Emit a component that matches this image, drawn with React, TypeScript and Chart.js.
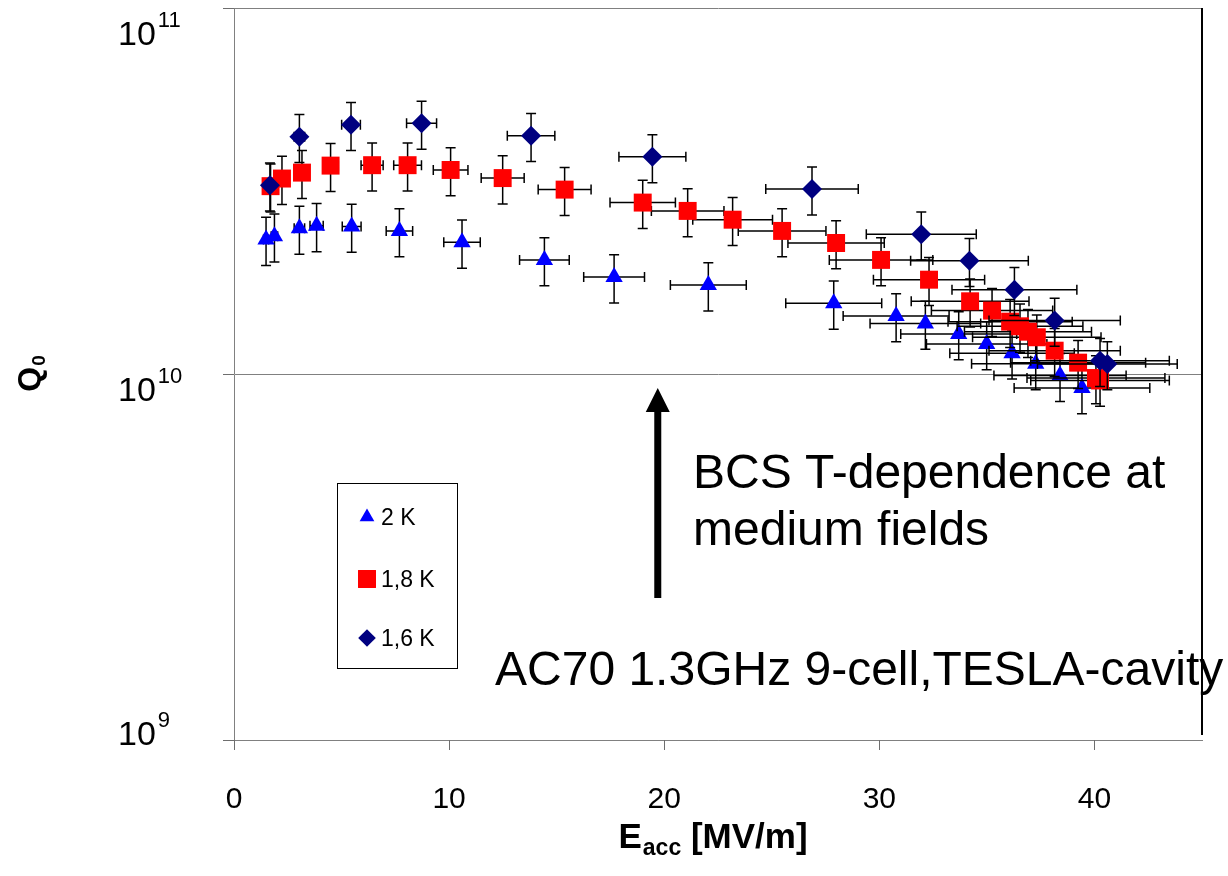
import React, { useEffect, useRef } from 'react';
import { Chart, registerables } from 'chart.js';

Chart.register(...registerables);

// ---------- data ----------
const E_2K = [1.49, 1.88, 3.04, 3.84, 5.47, 7.69, 10.6, 14.43, 17.67, 22.05, 27.88, 30.78, 32.14, 33.69, 34.99, 36.17, 37.27, 38.4, 39.42];
const Q_2K = [2.33e10, 2.38e10, 2.5e10, 2.54e10, 2.53e10, 2.46e10, 2.29e10, 2.05e10, 1.84e10, 1.75e10, 1.56e10, 1.44e10, 1.375e10, 1.287e10, 1.208e10, 1.14e10, 1.066e10, 0.99e10, 0.916e10];

const E_18K = [1.7, 2.23, 3.16, 4.49, 6.42, 8.07, 10.07, 12.49, 15.37, 19.0, 21.09, 23.18, 25.48, 27.99, 30.08, 32.31, 34.22, 35.24, 36.08, 36.54, 36.91, 37.32, 38.15, 39.24, 40.07, 40.26];
const Q_18K = [3.26e10, 3.42e10, 3.55e10, 3.71e10, 3.72e10, 3.72e10, 3.61e10, 3.43e10, 3.19e10, 2.94e10, 2.79e10, 2.64e10, 2.46e10, 2.28e10, 2.05e10, 1.81e10, 1.58e10, 1.49e10, 1.39e10, 1.35e10, 1.305e10, 1.26e10, 1.158e10, 1.074e10, 0.975e10, 0.96e10];

const E_16K = [1.67, 3.04, 5.44, 8.72, 13.81, 19.45, 26.87, 31.95, 34.19, 36.28, 38.15, 40.26, 40.6];
const Q_16K = [3.28e10, 4.45e10, 4.8e10, 4.84e10, 4.48e10, 3.92e10, 3.2e10, 2.41e10, 2.04e10, 1.7e10, 1.4e10, 1.087e10, 1.065e10];

const SERIES_LABELS = ['2 K', '1,8 K', '1,6 K'];
const X_TICKS = [0, 10, 20, 30, 40];
const Y_TICKS = [1e9, 1e10, 1e11];
const Y_TICK_EXP = ['9', '10', '11'];
const X_ERR_REL = 0.08; // relative error on E_acc
const Y_ERR_REL = 0.15; // relative error on Q0

const ANNOT_1 = ['BCS T-dependence at', 'medium fields'];
const ANNOT_2 = 'AC70 1.3GHz 9-cell,TESLA-cavity';

// ---------- styles ----------
const FONT = "'Liberation Sans', Arial, Helvetica, sans-serif";
const COLORS = ['#0000FF', '#FF0000', '#000080'];
const STYLES = ['triangle', 'rect', 'rectRot'];
const RADII = [10, 12.7, 10];
const Y_LABEL_DY = [5, 27, 37];

const toPts = (xs: number[], ys: number[]) => xs.map((x, i) => ({ x, y: ys[i] }));

function drawMarker(ctx: CanvasRenderingContext2D, style: string, x: number, y: number, r: number, color: string) {
  ctx.save();
  ctx.fillStyle = color;
  ctx.beginPath();
  if (style === 'triangle') {
    ctx.moveTo(x, y - r);
    ctx.lineTo(x + r * Math.sin(Math.PI * 2 / 3), y + r * 0.5);
    ctx.lineTo(x - r * Math.sin(Math.PI * 2 / 3), y + r * 0.5);
    ctx.closePath();
  } else if (style === 'rect') {
    const s = r * Math.SQRT1_2;
    ctx.rect(x - s, y - s, 2 * s, 2 * s);
  } else {
    ctx.moveTo(x, y - r);
    ctx.lineTo(x + r, y);
    ctx.lineTo(x, y + r);
    ctx.lineTo(x - r, y);
    ctx.closePath();
  }
  ctx.fill();
  ctx.restore();
}

const errorBarPlugin = {
  id: 'errorBars',
  beforeDatasetDraw(chart: any, args: any) {
    const ctx = chart.ctx as CanvasRenderingContext2D;
    const xs = chart.scales.x;
    const ys = chart.scales.y;
    const ds = chart.data.datasets[args.index];
    const cap = 5;
    ctx.save();
    ctx.strokeStyle = '#000';
    ctx.lineWidth = 1.5;
    for (const p of ds.data as { x: number; y: number }[]) {
      const px = xs.getPixelForValue(p.x);
      const py = ys.getPixelForValue(p.y);
      const xl = xs.getPixelForValue(p.x * (1 - X_ERR_REL));
      const xr = xs.getPixelForValue(p.x * (1 + X_ERR_REL));
      const yt = ys.getPixelForValue(p.y * (1 + Y_ERR_REL));
      const yb = ys.getPixelForValue(p.y * (1 - Y_ERR_REL));
      ctx.beginPath();
      ctx.moveTo(xl, py); ctx.lineTo(xr, py);
      ctx.moveTo(xl, py - cap); ctx.lineTo(xl, py + cap);
      ctx.moveTo(xr, py - cap); ctx.lineTo(xr, py + cap);
      ctx.moveTo(px, yt); ctx.lineTo(px, yb);
      ctx.moveTo(px - cap, yt); ctx.lineTo(px + cap, yt);
      ctx.moveTo(px - cap, yb); ctx.lineTo(px + cap, yb);
      ctx.stroke();
    }
    ctx.restore();
  },
};

const decorPlugin = {
  id: 'decor',
  afterDraw(chart: any) {
    const ctx = chart.ctx as CanvasRenderingContext2D;
    const a = chart.chartArea;
    const xs = chart.scales.x;
    const ys = chart.scales.y;
    ctx.save();

    // right border
    ctx.strokeStyle = '#000';
    ctx.lineWidth = 2;
    ctx.beginPath();
    ctx.moveTo(a.right, a.top);
    ctx.lineTo(a.right, a.bottom - 5);
    ctx.stroke();

    // tick marks
    ctx.strokeStyle = '#6e6e6e';
    ctx.lineWidth = 1;
    ctx.beginPath();
    for (const v of Y_TICKS) {
      const py = Math.round(ys.getPixelForValue(v)) + 0.5;
      ctx.moveTo(a.left - 11, py);
      ctx.lineTo(a.left, py);
    }
    for (const v of X_TICKS) {
      const px = Math.round(xs.getPixelForValue(v)) + 0.5;
      ctx.moveTo(px, a.bottom);
      ctx.lineTo(px, a.bottom + 10);
    }
    ctx.stroke();

    ctx.fillStyle = '#000';
    // x tick labels
    ctx.font = `30px ${FONT}`;
    ctx.textAlign = 'center';
    ctx.textBaseline = 'middle';
    for (const v of X_TICKS) {
      ctx.fillText(String(v), xs.getPixelForValue(v), a.bottom + 60);
    }

    // y tick labels 10^n
    ctx.textAlign = 'left';
    ctx.textBaseline = 'alphabetic';
    Y_TICKS.forEach((v, i) => {
      const py = ys.getPixelForValue(v);
      const base = py + Y_LABEL_DY[i];
      const lx = a.left - 116;
      ctx.font = `34px ${FONT}`;
      ctx.fillText('10', lx, base);
      const w = ctx.measureText('10').width;
      ctx.font = `22px ${FONT}`;
      ctx.fillText(Y_TICK_EXP[i], lx + w + 2, base - 18);
    });

    // y title Q0
    ctx.save();
    ctx.translate(28, (a.top + a.bottom) / 2);
    ctx.rotate(-Math.PI / 2);
    ctx.font = `bold 32px ${FONT}`;
    const wQ = ctx.measureText('Q').width;
    ctx.font = `bold 19px ${FONT}`;
    const w0 = ctx.measureText('0').width;
    const sx = -(wQ + w0) / 2;
    ctx.font = `bold 32px ${FONT}`;
    ctx.fillText('Q', sx, 12);
    ctx.font = `bold 19px ${FONT}`;
    ctx.fillText('0', sx + wQ + 1, 17);
    ctx.restore();

    // x title E_acc [MV/m]
    {
      const big = `bold 35px ${FONT}`;
      const small = `bold 23px ${FONT}`;
      ctx.font = big;
      const wE = ctx.measureText('E').width;
      const wR = ctx.measureText(' [MV/m]').width;
      ctx.font = small;
      const wS = ctx.measureText('acc').width;
      const total = wE + wS + 1 + wR;
      const x0 = (a.left + a.right) / 2 - 5 - total / 2;
      const yb = a.bottom + 108;
      ctx.font = big;
      ctx.fillText('E', x0, yb);
      ctx.font = small;
      ctx.fillText('acc', x0 + wE + 1, yb + 7);
      ctx.font = big;
      ctx.fillText(' [MV/m]', x0 + wE + 1 + wS, yb);
    }

    // legend
    {
      const lx = a.left + 103;
      const ly = a.top + 475;
      ctx.strokeStyle = '#000';
      ctx.lineWidth = 1;
      ctx.strokeRect(lx + 0.5, ly + 0.5, 120, 185);
      const rows = [34, 96, 155];
      const legR = [8.5, 12.7, 8.8];
      ctx.font = `23px ${FONT}`;
      ctx.fillStyle = '#000';
      SERIES_LABELS.forEach((lab, i) => {
        drawMarker(ctx, STYLES[i], lx + 30, ly + rows[i], legR[i], COLORS[i]);
        ctx.fillStyle = '#000';
        ctx.fillText(lab, lx + 44, ly + rows[i] + 8);
      });
    }

    // arrow
    {
      const ax = xs.getPixelForValue(19.7);
      const yBottom = a.top + 590;
      const yTip = a.top + 380;
      ctx.fillStyle = '#000';
      ctx.fillRect(ax - 3.5, yTip + 22, 7, yBottom - yTip - 22);
      ctx.beginPath();
      ctx.moveTo(ax, yTip);
      ctx.lineTo(ax + 12, yTip + 24);
      ctx.lineTo(ax - 12, yTip + 24);
      ctx.closePath();
      ctx.fill();
    }

    // annotations
    ctx.font = `48px ${FONT}`;
    ctx.fillStyle = '#000';
    ctx.fillText(ANNOT_1[0], a.left + 459, a.top + 480);
    ctx.fillText(ANNOT_1[1], a.left + 459, a.top + 537);
    ctx.fillText(ANNOT_2, a.left + 261, a.top + 677);

    ctx.restore();
  },
};

export default function App() {
  const ref = useRef<HTMLCanvasElement>(null);
  useEffect(() => {
    document.body.style.margin = '0';
    const datasets = [
      { label: SERIES_LABELS[0], data: toPts(E_2K, Q_2K), order: 2 },
      { label: SERIES_LABELS[1], data: toPts(E_18K, Q_18K), order: 1 },
      { label: SERIES_LABELS[2], data: toPts(E_16K, Q_16K), order: 0 },
    ].map((d, i) => ({
      ...d,
      showLine: false,
      pointStyle: STYLES[i],
      pointRadius: RADII[i],
      pointHoverRadius: RADII[i],
      backgroundColor: COLORS[i],
      borderColor: COLORS[i],
      pointBorderWidth: 0,
      borderWidth: 0,
    }));
    const chart = new Chart(ref.current as HTMLCanvasElement, {
      type: 'scatter',
      data: { datasets } as any,
      options: {
        responsive: false,
        animation: false,
        devicePixelRatio: 1,
        layout: { autoPadding: false, padding: { left: 234, right: 26, top: 8, bottom: 136 } },
        plugins: { legend: { display: false }, tooltip: { enabled: false } },
        scales: {
          x: {
            type: 'linear',
            min: 0,
            max: 45,
            ticks: { display: false },
            grid: { display: false, drawTicks: false },
            border: { display: true, color: '#808080', width: 1 },
          },
          y: {
            type: 'logarithmic',
            min: 1e9,
            max: 1e11,
            afterBuildTicks: (scale: any) => {
              scale.ticks = Y_TICKS.map((v) => ({ value: v }));
            },
            ticks: { display: false },
            grid: { display: true, color: '#808080', lineWidth: 1, drawTicks: false },
            border: { display: true, color: '#808080', width: 1 },
          },
        },
      } as any,
      plugins: [errorBarPlugin, decorPlugin],
    });
    return () => chart.destroy();
  }, []);
  return (
    <div style={{ width: 1228, height: 876, position: 'relative', background: '#fff' }}>
      <canvas ref={ref} width={1228} height={876} style={{ display: 'block' }} />
    </div>
  );
}
